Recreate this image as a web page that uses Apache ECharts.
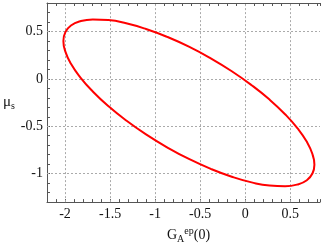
<!DOCTYPE html>
<html>
<head>
<meta charset="utf-8">
<script src="https://cdn.jsdelivr.net/npm/echarts@6/dist/echarts.min.js"></script>
<style>
html,body{margin:0;padding:0;background:#fff;}
#c{width:323px;height:249px;}
</style>
</head>
<body>
<div id="c"></div>
<script>
// Ellipse contour (G_A^ep(0), mu_s); first/last points repeated to close the loop
var curveX = [0.746, 0.768, 0.746, 0.684, 0.581, 0.442, 0.270, 0.071, -0.149, -0.383, -0.625, -0.867, -1.101, -1.321, -1.520, -1.692, -1.831, -1.934, -1.996, -2.018, -1.996, -1.934, -1.831, -1.692, -1.520, -1.321, -1.101, -0.867, -0.625, -0.383, -0.149, 0.071, 0.270, 0.442, 0.581, 0.684, 0.746, 0.768, 0.746];
var curveY = [-0.793, -0.906, -0.999, -1.069, -1.114, -1.133, -1.126, -1.092, -1.032, -0.949, -0.845, -0.722, -0.586, -0.439, -0.287, -0.133, 0.016, 0.158, 0.287, 0.400, 0.493, 0.563, 0.608, 0.627, 0.620, 0.586, 0.526, 0.443, 0.339, 0.216, 0.080, -0.067, -0.219, -0.373, -0.522, -0.664, -0.793, -0.906, -0.999];
var xTicks = [-2, -1.5, -1, -0.5, 0, 0.5];
var yTicks = [-1, -0.5, 0, 0.5];

var serif = '"Liberation Serif", "DejaVu Serif", serif';
var axisColor = '#555';
function fmt(list) {
  return function (v) {
    var r = Math.round(v * 10) / 10;
    for (var i = 0; i < list.length; i++) {
      if (Math.abs(list[i] - r) < 1e-6) return String(list[i]);
    }
    return '';
  };
}
function xAx(pos, withLabels) {
  return {
    type: 'value', position: pos, min: -2.2, max: 0.83, interval: 0.1,
    axisLine: { show: true, onZero: false, lineStyle: { color: axisColor, width: 1 } },
    axisTick: { show: true, inside: true, length: 3, lineStyle: { color: axisColor } },
    axisLabel: { show: withLabels, formatter: fmt(xTicks), margin: 5, color: '#111', fontFamily: serif, fontSize: 14, showMinLabel: true, showMaxLabel: true },
    splitLine: { show: false }
  };
}
var xa0 = xAx('bottom', true);
xa0.name = '{g|G}{sub|A}{sup|ep}{g|(0)}';
xa0.nameLocation = 'middle';
xa0.nameGap = 10;
xa0.nameTextStyle = {
  color: '#111', fontFamily: serif, fontSize: 14, padding: [0, 0, 0, 10],
  rich: {
    g: { fontFamily: serif, fontSize: 14, color: '#111' },
    sub: { fontFamily: serif, fontSize: 10, color: '#111', padding: [8, 0, 0, 0] },
    sup: { fontFamily: serif, fontSize: 10, color: '#111', padding: [0, 0, 8, 0] }
  }
};
var xa1 = xAx('top', false);

var data = curveX.map(function (x, i) { return [x, curveY[i]]; });
var gridLines = xTicks.map(function (v) { return { xAxis: v }; })
  .concat(yTicks.map(function (v) { return { yAxis: v }; }));

var chart = echarts.init(document.getElementById('c'), null, { renderer: 'canvas' });
chart.setOption({
  animation: false,
  backgroundColor: '#fff',
  grid: { left: 40, right: 0, top: 3, bottom: 41, containLabel: false },
  xAxis: [xa0, xa1],
  yAxis: [{
    type: 'value', min: -1.3, max: 0.8, interval: 0.1,
    axisLine: { show: true, onZero: false, lineStyle: { color: axisColor, width: 1 } },
    axisTick: { show: true, inside: true, length: 3, lineStyle: { color: axisColor } },
    axisLabel: { formatter: fmt(yTicks), margin: 4, color: '#111', fontFamily: serif, fontSize: 14, showMinLabel: true, showMaxLabel: true },
    splitLine: { show: false },
    name: '{m|μ}{s|s}', nameLocation: 'middle', nameRotate: 0, nameGap: 26,
    nameTextStyle: {
      color: '#111', fontFamily: serif, fontSize: 14,
      rich: {
        m: { fontFamily: serif, fontSize: 15, color: '#111' },
        s: { fontFamily: serif, fontSize: 10, color: '#111', padding: [8, 0, 0, 0] }
      }
    }
  }],
  series: [{
    type: 'line', xAxisIndex: 0, yAxisIndex: 0,
    data: data, smooth: true, showSymbol: false, symbol: 'none',
    lineStyle: { color: '#ff0000', width: 2 },
    z: 3,
    markLine: {
      silent: true, symbol: 'none', z: 1, animation: false,
      label: { show: false },
      lineStyle: { color: '#aaa', type: [2, 2], width: 1 },
      emphasis: { disabled: true },
      data: gridLines
    }
  }]
});
</script>
</body>
</html>
